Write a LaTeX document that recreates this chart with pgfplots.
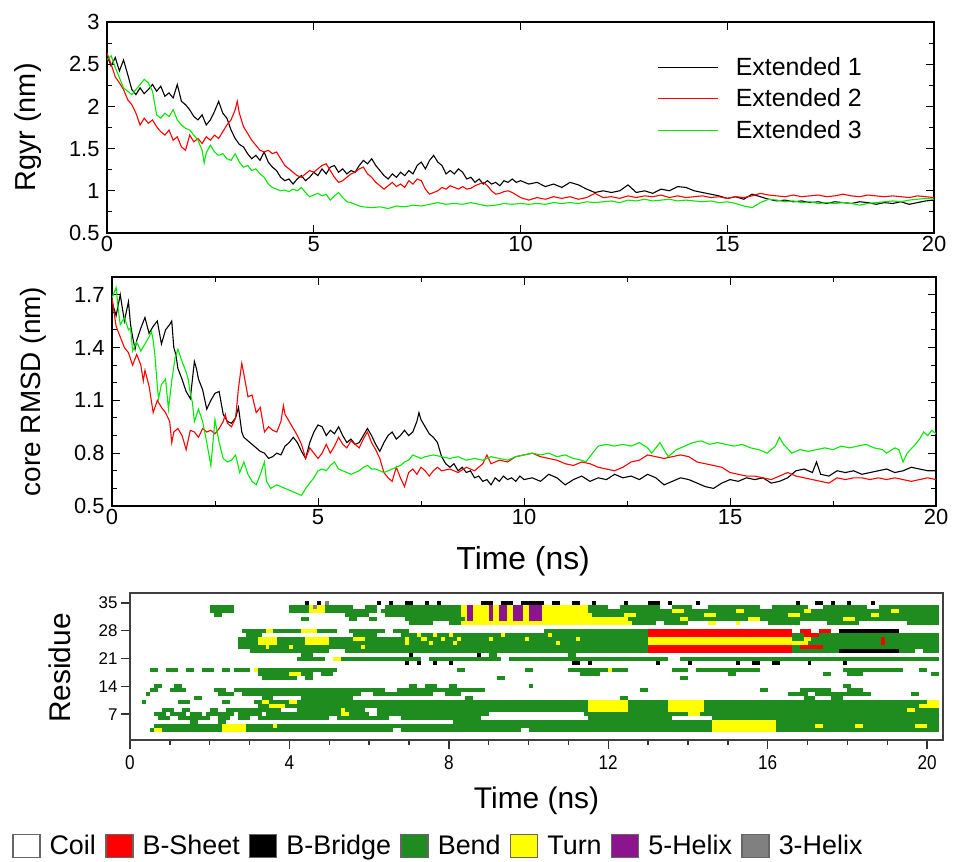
\documentclass[border=0pt]{standalone}
\usepackage{pgfplots}
\pgfplotsset{compat=1.18}
\usepackage{fontspec}
\setmainfont{Liberation Sans}
\newfontfamily\narrowfont{Liberation Sans}[FakeStretch=0.86]
\definecolor{cbend}{RGB}{30,140,30}
\definecolor{cturn}{RGB}{255,255,0}
\definecolor{csheet}{RGB}{255,0,0}
\definecolor{chelixfive}{RGB}{140,20,140}
\definecolor{chelixthree}{RGB}{128,128,128}
\definecolor{extg}{RGB}{0,235,0}
\definecolor{extr}{RGB}{255,0,0}
\pgfplotsset{
  seg/.style={line width=4bp, line cap=butt, unbounded coords=jump, forget plot},
  trace/.style={line width=1.1bp, mark=none},
}
\begin{document}
\begin{tikzpicture}
\useasboundingbox (0,0) rectangle (953bp,-862bp);
%================ TOP: Rgyr
\begin{axis}[
  at={(107bp,-233bp)}, anchor=south west, scale only axis,
  width=827bp, height=211bp,
  xmin=0, xmax=20, ymin=0.5, ymax=3,
  xtick={0,5,10,15,20}, ytick={0.5,1,1.5,2,2.5,3}, minor y tick num=1,
  tick align=inside, major tick length=8bp, minor tick length=5bp,
  /pgf/number format/assume math mode=true,
  ticklabel style={font=\fontsize{22}{26}\selectfont},
  yticklabel style={xshift=-4bp},
  ylabel={Rgyr (nm)},
  ylabel style={font=\fontsize{29}{34}\selectfont, at={(axis description cs:-0.095,0.5)}, anchor=center},
  axis line style={line width=1.2bp}, every tick/.style={line width=1bp, black},
  legend style={at={(0.662,0.852)}, anchor=north west, draw=none, fill=none,
     font=\fontsize{25}{30}\selectfont, row sep=8bp},
  legend cell align=left,
  legend image code/.code={\draw[#1, line width=1.2bp] (0bp,0bp) -- (60bp,0bp); \path (75bp,0bp);},
]
\addplot[trace, black] coordinates {(0,2.60)(0.1,2.48)(0.2,2.58)(0.3,2.42)(0.4,2.55)(0.5,2.38)(0.6,2.20)(0.7,2.14)(0.8,2.22)(0.9,2.15)(1.0,2.20)(1.1,2.26)(1.2,2.18)(1.3,2.24)(1.4,2.12)(1.5,2.16)(1.6,2.10)(1.7,2.26)(1.8,2.06)(1.9,2.02)(2.0,1.96)(2.1,1.88)(2.2,1.84)(2.3,1.90)(2.4,1.78)(2.5,1.84)(2.6,1.94)(2.7,2.06)(2.8,1.92)(2.9,1.86)(3.0,1.72)(3.1,1.62)(3.2,1.55)(3.3,1.52)(3.4,1.44)(3.5,1.38)(3.6,1.42)(3.7,1.36)(3.8,1.46)(3.9,1.34)(4.0,1.28)(4.1,1.24)(4.2,1.16)(4.3,1.12)(4.4,1.14)(4.5,1.08)(4.6,1.14)(4.7,1.18)(4.8,1.12)(4.9,1.16)(5.0,1.22)(5.1,1.18)(5.2,1.26)(5.3,1.20)(5.4,1.28)(5.5,1.30)(5.6,1.22)(5.7,1.26)(5.8,1.20)(5.9,1.24)(6.0,1.22)(6.1,1.30)(6.2,1.36)(6.3,1.32)(6.4,1.38)(6.5,1.30)(6.6,1.24)(6.7,1.18)(6.8,1.14)(6.9,1.20)(7.0,1.16)(7.1,1.22)(7.2,1.18)(7.3,1.24)(7.4,1.20)(7.5,1.30)(7.6,1.34)(7.7,1.26)(7.8,1.36)(7.9,1.42)(8.0,1.34)(8.1,1.30)(8.2,1.20)(8.3,1.24)(8.4,1.20)(8.5,1.26)(8.6,1.22)(8.7,1.14)(8.8,1.16)(8.9,1.10)(9.0,1.14)(9.1,1.08)(9.2,1.12)(9.3,1.08)(9.4,1.10)(9.5,1.06)(9.6,1.12)(9.7,1.10)(9.8,1.14)(9.9,1.10)(10.0,1.12)(10.2,1.08)(10.4,1.10)(10.6,1.05)(10.8,1.08)(11.0,1.04)(11.2,1.10)(11.4,1.07)(11.6,1.02)(11.8,0.98)(12.0,1.00)(12.2,0.98)(12.4,1.00)(12.6,1.07)(12.8,0.98)(13.0,1.00)(13.2,0.97)(13.4,1.02)(13.6,1.00)(13.8,1.05)(14.0,1.04)(14.2,1.00)(14.4,0.98)(14.6,0.96)(14.8,0.94)(15.0,0.91)(15.2,0.93)(15.4,0.90)(15.6,0.96)(15.8,0.93)(16.0,0.90)(16.2,0.88)(16.4,0.89)(16.6,0.87)(16.8,0.88)(17.0,0.86)(17.2,0.87)(17.4,0.85)(17.6,0.87)(17.8,0.86)(18.0,0.85)(18.2,0.87)(18.4,0.86)(18.6,0.84)(18.8,0.86)(19.0,0.85)(19.2,0.87)(19.4,0.84)(19.6,0.86)(19.8,0.88)(20.0,0.89)};
\addlegendentry{Extended 1}
\addplot[trace, extr] coordinates {(0,2.63)(0.1,2.50)(0.2,2.35)(0.3,2.28)(0.4,2.20)(0.5,2.08)(0.6,2.02)(0.7,1.92)(0.8,1.78)(0.9,1.86)(1.0,1.80)(1.1,1.84)(1.2,1.76)(1.3,1.70)(1.4,1.66)(1.5,1.72)(1.6,1.60)(1.7,1.64)(1.8,1.52)(1.9,1.48)(2.0,1.66)(2.1,1.58)(2.2,1.62)(2.3,1.56)(2.4,1.64)(2.5,1.60)(2.6,1.66)(2.7,1.62)(2.8,1.70)(2.9,1.78)(3.0,1.84)(3.1,1.96)(3.15,2.06)(3.2,1.92)(3.3,1.76)(3.4,1.68)(3.5,1.60)(3.6,1.54)(3.7,1.48)(3.8,1.46)(3.9,1.48)(4.0,1.44)(4.1,1.46)(4.2,1.38)(4.3,1.30)(4.4,1.26)(4.5,1.22)(4.6,1.18)(4.7,1.16)(4.8,1.20)(4.9,1.24)(5.0,1.22)(5.1,1.26)(5.2,1.30)(5.3,1.32)(5.4,1.24)(5.5,1.16)(5.6,1.10)(5.7,1.12)(5.8,1.16)(5.9,1.20)(6.0,1.22)(6.1,1.26)(6.2,1.28)(6.3,1.20)(6.4,1.16)(6.5,1.10)(6.6,1.06)(6.7,1.02)(6.8,1.06)(6.9,1.10)(7.0,1.05)(7.1,1.08)(7.2,1.04)(7.3,1.12)(7.4,1.08)(7.5,1.14)(7.6,1.12)(7.7,1.02)(7.8,0.96)(7.9,0.98)(8.0,1.00)(8.1,1.04)(8.2,1.02)(8.3,1.06)(8.4,1.04)(8.5,1.02)(8.6,1.05)(8.7,1.02)(8.8,1.03)(8.9,1.06)(9.0,1.08)(9.1,1.10)(9.2,1.06)(9.3,1.00)(9.4,0.96)(9.5,0.97)(9.6,0.99)(9.7,1.00)(9.8,0.98)(9.9,0.95)(10.0,0.92)(10.2,0.89)(10.4,0.92)(10.6,0.90)(10.8,0.93)(11.0,0.91)(11.2,0.93)(11.4,0.90)(11.6,0.92)(11.8,0.97)(12.0,0.92)(12.2,0.93)(12.4,0.91)(12.6,0.94)(12.8,0.92)(13.0,0.94)(13.2,0.93)(13.4,0.95)(13.6,0.92)(13.8,0.94)(14.0,0.92)(14.2,0.93)(14.4,0.94)(14.6,0.92)(14.8,0.93)(15.0,0.91)(15.2,0.93)(15.4,0.92)(15.6,0.94)(15.8,0.97)(16.0,0.95)(16.2,0.94)(16.4,0.93)(16.6,0.95)(16.8,0.93)(17.0,0.94)(17.2,0.95)(17.4,0.93)(17.6,0.94)(17.8,0.96)(18.0,0.94)(18.2,0.93)(18.4,0.95)(18.6,0.94)(18.8,0.93)(19.0,0.94)(19.2,0.93)(19.4,0.92)(19.6,0.94)(19.8,0.93)(20.0,0.92)};
\addlegendentry{Extended 2}
\addplot[trace, extg] coordinates {(0,2.55)(0.1,2.60)(0.2,2.46)(0.3,2.34)(0.4,2.22)(0.5,2.18)(0.6,2.14)(0.7,2.20)(0.8,2.26)(0.9,2.32)(1.0,2.28)(1.1,2.18)(1.2,1.90)(1.3,1.86)(1.4,1.92)(1.5,1.88)(1.6,1.96)(1.7,1.84)(1.8,1.78)(1.9,1.74)(2.0,1.72)(2.1,1.66)(2.2,1.60)(2.3,1.48)(2.35,1.33)(2.4,1.45)(2.5,1.54)(2.6,1.46)(2.7,1.42)(2.8,1.44)(2.9,1.38)(3.0,1.36)(3.1,1.44)(3.2,1.34)(3.3,1.28)(3.4,1.30)(3.5,1.24)(3.6,1.26)(3.7,1.20)(3.8,1.16)(3.9,1.08)(4.0,1.04)(4.1,1.02)(4.2,1.00)(4.3,1.01)(4.4,0.99)(4.5,1.02)(4.6,1.00)(4.7,1.04)(4.8,0.98)(4.9,0.93)(5.0,0.95)(5.1,0.97)(5.2,0.94)(5.3,0.96)(5.4,0.89)(5.5,0.94)(5.6,0.98)(5.7,0.92)(5.8,0.87)(5.9,0.86)(6.0,0.84)(6.1,0.82)(6.2,0.81)(6.4,0.80)(6.6,0.81)(6.8,0.79)(7.0,0.82)(7.2,0.81)(7.4,0.83)(7.6,0.82)(7.8,0.84)(8.0,0.86)(8.2,0.84)(8.4,0.85)(8.6,0.84)(8.8,0.86)(9.0,0.84)(9.2,0.82)(9.4,0.83)(9.6,0.85)(9.8,0.84)(10.0,0.85)(10.2,0.84)(10.4,0.85)(10.6,0.84)(10.8,0.86)(11.0,0.85)(11.2,0.86)(11.4,0.85)(11.6,0.87)(11.8,0.86)(12.0,0.87)(12.2,0.88)(12.4,0.86)(12.6,0.89)(12.8,0.88)(13.0,0.90)(13.2,0.88)(13.4,0.89)(13.6,0.90)(13.8,0.88)(14.0,0.89)(14.2,0.88)(14.4,0.87)(14.6,0.88)(14.8,0.86)(15.0,0.87)(15.2,0.85)(15.4,0.82)(15.6,0.80)(15.8,0.86)(16.0,0.90)(16.2,0.89)(16.4,0.87)(16.6,0.88)(16.8,0.86)(17.0,0.87)(17.2,0.85)(17.4,0.86)(17.6,0.85)(17.8,0.86)(18.0,0.85)(18.2,0.83)(18.4,0.85)(18.6,0.86)(18.8,0.87)(19.0,0.88)(19.2,0.87)(19.4,0.89)(19.6,0.90)(19.8,0.91)(20.0,0.90)};
\addlegendentry{Extended 3}
\end{axis}
%================ MIDDLE: core RMSD
\begin{axis}[
  at={(112bp,-506bp)}, anchor=south west, scale only axis,
  width=824bp, height=229bp,
  xmin=0, xmax=20, ymin=0.5, ymax=1.8,
  xtick={0,5,10,15,20}, minor x tick num=1,
  ytick={0.5,0.8,1.1,1.4,1.7}, minor y tick num=2,
  tick align=inside, major tick length=8bp, minor tick length=5bp,
  /pgf/number format/assume math mode=true,
  ticklabel style={font=\fontsize{22}{26}\selectfont},
  yticklabel style={xshift=-4bp},
  xlabel={Time (ns)}, ylabel={core RMSD (nm)},
  xlabel style={font=\fontsize{32}{38}\selectfont, at={(axis description cs:0.499,-0.24)}, anchor=center},
  ylabel style={font=\fontsize{28}{34}\selectfont, at={(axis description cs:-0.096,0.5)}, anchor=center},
  axis line style={line width=1.2bp}, every tick/.style={line width=1bp, black},
]
\addplot[trace, black] coordinates {(0,1.66)(0.1,1.58)(0.2,1.70)(0.3,1.55)(0.4,1.66)(0.45,1.53)(0.5,1.46)(0.56,1.39)(0.6,1.44)(0.7,1.51)(0.8,1.57)(0.9,1.48)(1.0,1.52)(1.1,1.55)(1.2,1.42)(1.3,1.50)(1.4,1.53)(1.45,1.55)(1.5,1.40)(1.55,1.36)(1.6,1.28)(1.7,1.22)(1.8,1.15)(1.9,1.11)(2.0,1.32)(2.05,1.28)(2.1,1.22)(2.2,1.16)(2.3,1.05)(2.4,1.10)(2.5,1.14)(2.6,1.15)(2.7,1.02)(2.8,0.98)(2.9,0.97)(3.0,1.00)(3.07,1.06)(3.15,0.92)(3.2,0.89)(3.3,0.87)(3.4,0.85)(3.5,0.83)(3.6,0.81)(3.7,0.80)(3.8,0.77)(3.9,0.78)(4.0,0.80)(4.1,0.79)(4.2,0.84)(4.3,0.86)(4.4,0.89)(4.5,0.86)(4.6,0.81)(4.7,0.77)(4.8,0.86)(4.9,0.92)(5.0,0.96)(5.1,0.95)(5.2,0.90)(5.3,0.93)(5.4,0.91)(5.5,0.95)(5.6,0.90)(5.7,0.86)(5.8,0.88)(5.9,0.85)(6.0,0.86)(6.1,0.90)(6.2,0.94)(6.3,0.90)(6.4,0.85)(6.5,0.81)(6.6,0.86)(6.7,0.90)(6.8,0.92)(6.9,0.88)(7.0,0.90)(7.1,0.93)(7.2,0.90)(7.3,0.92)(7.4,0.98)(7.45,1.03)(7.5,0.99)(7.6,0.95)(7.7,0.91)(7.8,0.89)(7.9,0.86)(8.0,0.78)(8.1,0.74)(8.2,0.72)(8.3,0.74)(8.4,0.70)(8.5,0.72)(8.6,0.69)(8.7,0.70)(8.8,0.66)(8.9,0.67)(9.0,0.64)(9.1,0.65)(9.2,0.62)(9.3,0.66)(9.4,0.64)(9.5,0.67)(9.6,0.65)(9.7,0.66)(9.8,0.64)(9.9,0.67)(10.0,0.65)(10.2,0.66)(10.4,0.64)(10.6,0.68)(10.8,0.66)(11.0,0.62)(11.2,0.65)(11.4,0.67)(11.6,0.64)(11.8,0.66)(12.0,0.65)(12.2,0.68)(12.4,0.66)(12.6,0.67)(12.8,0.65)(13.0,0.68)(13.2,0.66)(13.4,0.62)(13.6,0.64)(13.8,0.66)(14.0,0.65)(14.2,0.63)(14.4,0.61)(14.6,0.60)(14.8,0.63)(15.0,0.65)(15.2,0.64)(15.4,0.66)(15.6,0.65)(15.8,0.66)(16.0,0.63)(16.2,0.64)(16.4,0.66)(16.6,0.70)(16.8,0.71)(17.0,0.69)(17.1,0.75)(17.2,0.68)(17.4,0.67)(17.6,0.70)(17.8,0.69)(18.0,0.70)(18.2,0.68)(18.4,0.69)(18.6,0.70)(18.8,0.71)(19.0,0.69)(19.2,0.70)(19.4,0.72)(19.6,0.71)(19.8,0.70)(20.0,0.70)};
\addplot[trace, extr] coordinates {(0,1.68)(0.1,1.52)(0.2,1.46)(0.3,1.40)(0.4,1.37)(0.5,1.30)(0.6,1.36)(0.7,1.30)(0.76,1.21)(0.8,1.27)(0.9,1.18)(1.0,1.03)(1.1,1.10)(1.2,1.06)(1.3,1.03)(1.4,0.98)(1.45,0.86)(1.5,0.92)(1.6,0.94)(1.7,0.90)(1.8,0.82)(1.9,0.93)(2.0,0.92)(2.1,0.89)(2.2,0.94)(2.3,0.92)(2.4,0.93)(2.5,0.91)(2.6,0.94)(2.7,0.98)(2.75,1.02)(2.8,0.97)(2.9,0.95)(3.0,1.00)(3.07,1.17)(3.15,1.31)(3.2,1.25)(3.3,1.12)(3.4,1.13)(3.5,1.03)(3.6,1.06)(3.7,0.92)(3.8,0.95)(3.9,0.93)(4.0,0.92)(4.1,0.98)(4.16,1.07)(4.2,1.02)(4.3,0.98)(4.4,0.94)(4.5,0.90)(4.6,0.85)(4.7,0.77)(4.8,0.83)(4.9,0.80)(5.0,0.77)(5.1,0.80)(5.2,0.85)(5.3,0.80)(5.4,0.84)(5.5,0.89)(5.6,0.85)(5.7,0.83)(5.8,0.87)(5.9,0.85)(6.0,0.83)(6.1,0.88)(6.2,0.92)(6.3,0.86)(6.4,0.82)(6.5,0.77)(6.6,0.69)(6.7,0.66)(6.8,0.64)(6.9,0.72)(7.0,0.66)(7.1,0.61)(7.2,0.69)(7.3,0.71)(7.4,0.68)(7.5,0.72)(7.6,0.70)(7.7,0.67)(7.8,0.70)(7.9,0.72)(8.0,0.70)(8.2,0.71)(8.4,0.69)(8.6,0.72)(8.8,0.70)(9.0,0.74)(9.1,0.79)(9.2,0.74)(9.4,0.76)(9.6,0.75)(9.8,0.78)(10.0,0.79)(10.2,0.80)(10.4,0.78)(10.6,0.77)(10.8,0.76)(11.0,0.74)(11.2,0.73)(11.4,0.75)(11.6,0.74)(11.8,0.72)(12.0,0.71)(12.2,0.70)(12.4,0.72)(12.6,0.75)(12.8,0.76)(13.0,0.79)(13.2,0.78)(13.4,0.77)(13.6,0.78)(13.8,0.79)(14.0,0.78)(14.2,0.75)(14.4,0.74)(14.6,0.73)(14.8,0.72)(15.0,0.69)(15.2,0.68)(15.4,0.67)(15.6,0.67)(15.8,0.66)(16.0,0.65)(16.2,0.67)(16.4,0.69)(16.6,0.67)(16.8,0.66)(17.0,0.65)(17.2,0.64)(17.4,0.63)(17.6,0.66)(17.8,0.65)(18.0,0.66)(18.2,0.66)(18.4,0.65)(18.6,0.66)(18.8,0.65)(19.0,0.66)(19.2,0.65)(19.4,0.64)(19.6,0.65)(19.8,0.66)(20.0,0.65)};
\addplot[trace, extg] coordinates {(0,1.68)(0.1,1.74)(0.15,1.62)(0.2,1.53)(0.3,1.57)(0.4,1.50)(0.45,1.51)(0.5,1.38)(0.6,1.43)(0.7,1.38)(0.8,1.42)(0.9,1.46)(0.96,1.49)(1.0,1.44)(1.04,1.36)(1.1,1.18)(1.13,1.11)(1.2,1.19)(1.3,1.22)(1.37,1.05)(1.45,1.21)(1.53,1.34)(1.6,1.39)(1.7,1.32)(1.8,1.26)(1.85,1.22)(1.9,1.14)(1.95,1.09)(2.0,0.98)(2.1,1.05)(2.2,0.98)(2.3,0.86)(2.4,0.73)(2.5,0.99)(2.6,0.86)(2.7,0.77)(2.8,0.75)(2.9,0.76)(3.0,0.79)(3.1,0.69)(3.2,0.75)(3.3,0.68)(3.4,0.64)(3.5,0.62)(3.6,0.68)(3.7,0.75)(3.75,0.64)(3.85,0.60)(4.0,0.62)(4.1,0.61)(4.2,0.60)(4.3,0.59)(4.4,0.58)(4.5,0.57)(4.6,0.56)(4.7,0.60)(4.8,0.63)(4.9,0.66)(5.0,0.70)(5.1,0.71)(5.2,0.70)(5.3,0.73)(5.4,0.75)(5.5,0.71)(5.6,0.70)(5.7,0.69)(5.8,0.68)(5.9,0.69)(6.0,0.70)(6.1,0.72)(6.2,0.73)(6.3,0.71)(6.4,0.71)(6.5,0.70)(6.6,0.69)(6.7,0.70)(6.8,0.71)(6.9,0.72)(7.0,0.73)(7.1,0.75)(7.2,0.76)(7.3,0.79)(7.4,0.78)(7.5,0.77)(7.6,0.78)(7.8,0.79)(8.0,0.78)(8.2,0.77)(8.4,0.78)(8.6,0.76)(8.8,0.77)(9.0,0.76)(9.2,0.78)(9.4,0.77)(9.6,0.76)(9.8,0.78)(10.0,0.79)(10.2,0.80)(10.4,0.79)(10.6,0.80)(10.8,0.78)(11.0,0.79)(11.2,0.77)(11.4,0.76)(11.5,0.75)(11.6,0.78)(11.8,0.84)(12.0,0.85)(12.2,0.84)(12.4,0.85)(12.6,0.84)(12.8,0.86)(13.0,0.83)(13.1,0.80)(13.3,0.86)(13.5,0.78)(13.7,0.82)(13.9,0.84)(14.1,0.86)(14.3,0.87)(14.5,0.85)(14.7,0.86)(14.9,0.85)(15.1,0.84)(15.3,0.85)(15.5,0.83)(15.7,0.82)(15.9,0.80)(16.1,0.84)(16.2,0.89)(16.3,0.85)(16.5,0.80)(16.7,0.82)(16.9,0.81)(17.1,0.82)(17.3,0.83)(17.5,0.82)(17.7,0.84)(17.9,0.83)(18.1,0.84)(18.3,0.85)(18.5,0.83)(18.7,0.82)(18.8,0.80)(19.0,0.83)(19.1,0.82)(19.2,0.75)(19.3,0.80)(19.5,0.85)(19.6,0.88)(19.7,0.92)(19.8,0.90)(19.9,0.93)(20.0,0.91)};
\end{axis}
%================ BOTTOM: DSSP
\begin{axis}[
  at={(130bp,-740bp)}, anchor=south west, scale only axis,
  width=813bp, height=147bp,
  xmin=0, xmax=20.4, ymin=0.5, ymax=37.5,
  xtick={0,4,8,12,16,20}, minor x tick num=3,
  ytick={7,14,21,28,35},
  xtick pos=left, ytick pos=left,
  tick align=outside, major tick length=9bp, minor tick length=5bp,
  axis on top, clip=true,
  /pgf/number format/assume math mode=true,
  xticklabel style={font=\narrowfont\fontsize{20}{24}\selectfont, yshift=-3bp},
  yticklabel style={font=\fontsize{17}{20}\selectfont},
  xlabel={Time (ns)}, ylabel={Residue},
  xlabel style={font=\fontsize{30}{36}\selectfont, at={(axis description cs:0.5,-0.41)}, anchor=center},
  ylabel style={font=\fontsize{30}{36}\selectfont, at={(axis description cs:-0.086,0.49)}, anchor=center},
  axis line style={line width=1.8bp, draw=black!75}, every tick/.style={line width=1.4bp, black!80},
  legend columns=7,
  legend style={at={(-0.1452,-0.721)}, anchor=west, draw=none, fill=none, inner sep=0pt,
     font=\fontsize{27}{32}\selectfont,
     nodes={inner sep=0pt},
     /tikz/every odd column/.append style={column sep=9bp},
     /tikz/every even column/.append style={column sep=9.3bp}},
  legend image code/.code={\draw[#1] (0bp,-11.5bp) rectangle (27bp,11.5bp);},
]
% Bend (green)
\addplot[seg, cbend] coordinates {
(2.0,34)(2.6,34)(0,nan)(4.0,34)(4.5,34)(0,nan)(4.9,34)(5.6,34)(0,nan)(5.9,34)(6.2,34)(0,nan)(6.4,34)(8.3,34)(0,nan)(11.5,34)(12.0,34)(0,nan)(12.3,34)(13.3,34)(0,nan)(13.6,34)(14.1,34)(0,nan)(14.5,34)(15.8,34)(0,nan)(16.1,34)(17.0,34)(0,nan)(17.4,34)(18.5,34)(0,nan)(18.8,34)(20.3,34)(0,nan)
(2.0,33)(2.6,33)(0,nan)(4.0,33)(4.5,33)(0,nan)(4.9,33)(6.2,33)(0,nan)(6.3,33)(8.3,33)(0,nan)(11.5,33)(13.6,33)(0,nan)(13.9,33)(15.2,33)(0,nan)(15.4,33)(16.9,33)(0,nan)(17.1,33)(19.1,33)(0,nan)(19.3,33)(20.3,33)(0,nan)
(2.1,32)(2.3,32)(0,nan)(5.4,32)(6.0,32)(0,nan)(6.4,32)(8.3,32)(0,nan)(11.6,32)(12.4,32)(0,nan)(12.7,32)(14.4,32)(0,nan)(14.7,32)(16.5,32)(0,nan)(16.8,32)(18.6,32)(0,nan)(18.8,32)(20.3,32)(0,nan)
(4.3,31)(4.5,31)(0,nan)(5.5,31)(5.7,31)(0,nan)(6.0,31)(6.2,31)(0,nan)(6.9,31)(8.4,31)(0,nan)(12.5,31)(13.8,31)(0,nan)(14.0,31)(15.5,31)(0,nan)(15.8,31)(17.9,31)(0,nan)(18.2,31)(20.3,31)(0,nan)
(7.0,30)(7.6,30)(0,nan)(8.0,30)(8.3,30)(0,nan)(12.6,30)(13.2,30)(0,nan)(13.4,30)(14.0,30)(0,nan)(16.0,30)(16.8,30)(0,nan)(17.5,30)(18.3,30)(0,nan)(19.5,30)(20.3,30)(0,nan)
(2.8,28)(3.4,28)(0,nan)(3.6,28)(4.3,28)(0,nan)(4.7,28)(5.2,28)(0,nan)(5.5,28)(6.4,28)(0,nan)(6.6,28)(7.0,28)(0,nan)(10.4,28)(13.0,28)(0,nan)
(2.9,27)(3.3,27)(0,nan)(5.6,27)(6.2,27)(0,nan)(6.8,27)(13.0,27)(0,nan)(16.6,27)(16.9,27)(0,nan)(17.3,27)(20.3,27)(0,nan)
(2.7,26)(3.2,26)(0,nan)(3.7,26)(4.4,26)(0,nan)(5.0,26)(5.6,26)(0,nan)(5.9,26)(13.0,26)(0,nan)(16.6,26)(20.3,26)(0,nan)
(2.7,25)(3.2,25)(0,nan)(3.7,25)(4.4,25)(0,nan)(5.0,25)(13.0,25)(0,nan)(17.0,25)(20.3,25)(0,nan)
(2.7,24)(13.0,24)(0,nan)(16.6,24)(16.8,24)(0,nan)(17.4,24)(20.3,24)(0,nan)
(3.0,23)(5.0,23)(0,nan)(5.4,23)(13.0,23)(0,nan)(16.6,23)(17.8,23)(0,nan)(19.3,23)(19.7,23)(0,nan)(19.9,23)(20.3,23)(0,nan)
(4.3,22)(4.6,22)(0,nan)(9.0,22)(9.2,22)(0,nan)(11.0,22)(11.2,22)(0,nan)
(4.2,21)(4.9,21)(0,nan)(5.1,21)(7.3,21)(0,nan)(7.5,21)(9.3,21)(0,nan)(9.5,21)(13.5,21)(0,nan)(13.8,21)(20.3,21)(0,nan)
(0.5,18)(0.7,18)(0,nan)(0.9,18)(1.2,18)(0,nan)(1.4,18)(1.6,18)(0,nan)(1.8,18)(2.1,18)(0,nan)(2.3,18)(2.5,18)(0,nan)(2.6,18)(3.0,18)(0,nan)(3.1,18)(5.2,18)(0,nan)(8.2,18)(8.4,18)(0,nan)(9.9,18)(10.1,18)(0,nan)(11.0,18)(12.5,18)(0,nan)(13.6,18)(14.0,18)(0,nan)(14.2,18)(15.8,18)(0,nan)(17.9,18)(19.4,18)(0,nan)(19.8,18)(20.0,18)(0,nan)
(3.2,17)(4.0,17)(0,nan)(4.3,17)(4.6,17)(0,nan)(4.8,17)(5.1,17)(0,nan)(11.3,17)(11.8,17)(0,nan)(15.0,17)(15.2,17)(0,nan)(17.4,17)(17.6,17)(0,nan)(18.0,17)(18.4,17)(0,nan)(20.1,17)(20.3,17)(0,nan)
(3.3,16)(4.2,16)(0,nan)(4.4,16)(4.6,16)(0,nan)(9.2,16)(9.4,16)(0,nan)(13.8,16)(14.0,16)(0,nan)
(0.6,14)(0.8,14)(0,nan)(1.1,14)(1.3,14)(0,nan)(7.0,14)(7.2,14)(0,nan)(7.4,14)(7.7,14)(0,nan)(8.0,14)(8.2,14)(0,nan)(10.0,14)(10.1,14)(0,nan)(17.9,14)(18.1,14)(0,nan)
(0.5,13)(0.7,13)(0,nan)(1.0,13)(1.4,13)(0,nan)(2.1,13)(2.4,13)(0,nan)(2.6,13)(6.4,13)(0,nan)(6.7,13)(8.9,13)(0,nan)(12.8,13)(13.0,13)(0,nan)(15.8,13)(16.0,13)(0,nan)(16.8,13)(17.6,13)(0,nan)(18.0,13)(18.4,13)(0,nan)
(0.4,12)(0.5,12)(0,nan)(2.2,12)(2.6,12)(0,nan)(2.8,12)(5.8,12)(0,nan)(6.1,12)(7.6,12)(0,nan)(7.9,12)(8.3,12)(0,nan)(16.5,12)(17.0,12)(0,nan)(17.2,12)(18.6,12)(0,nan)(19.6,12)(19.8,12)(0,nan)
(1.6,11)(1.8,11)(0,nan)(3.3,11)(3.6,11)(0,nan)(4.3,11)(5.6,11)(0,nan)(8.4,11)(8.6,11)(0,nan)(12.3,11)(12.5,11)(0,nan)(16.9,11)(17.2,11)(0,nan)(17.6,11)(17.9,11)(0,nan)
(0.3,10)(0.4,10)(0,nan)(1.2,10)(1.5,10)(0,nan)(2.3,10)(2.5,10)(0,nan)(3.1,10)(3.3,10)(0,nan)(3.5,10)(4.0,10)(0,nan)(4.2,10)(11.5,10)(0,nan)(12.5,10)(13.5,10)(0,nan)(14.4,10)(20.0,10)(0,nan)
(3.2,9)(3.5,9)(0,nan)(3.9,9)(11.5,9)(0,nan)(12.5,9)(13.5,9)(0,nan)(14.4,9)(19.8,9)(0,nan)
(0.8,8)(1.1,8)(0,nan)(1.3,8)(1.5,8)(0,nan)(2.0,8)(2.2,8)(0,nan)(2.4,8)(3.8,8)(0,nan)(4.2,8)(5.9,8)(0,nan)(6.2,8)(11.5,8)(0,nan)(12.5,8)(13.5,8)(0,nan)(14.4,8)(19.5,8)(0,nan)(19.7,8)(20.3,8)(0,nan)
(0.6,7)(0.9,7)(0,nan)(1.0,7)(1.4,7)(0,nan)(1.5,7)(1.8,7)(0,nan)(1.9,7)(2.6,7)(0,nan)(2.7,7)(3.3,7)(0,nan)(3.4,7)(5.3,7)(0,nan)(5.5,7)(6.0,7)(0,nan)(6.2,7)(9.0,7)(0,nan)(11.4,7)(14.0,7)(0,nan)(14.3,7)(20.3,7)(0,nan)
(0.7,6)(1.0,6)(0,nan)(1.2,6)(2.0,6)(0,nan)(2.2,6)(2.5,6)(0,nan)(2.7,6)(3.0,6)(0,nan)(3.2,6)(5.0,6)(0,nan)(5.2,6)(6.5,6)(0,nan)(6.8,6)(8.8,6)(0,nan)(11.5,6)(13.6,6)(0,nan)(14.6,6)(20.3,6)(0,nan)
(1.5,5)(1.7,5)(0,nan)(2.2,5)(2.4,5)(0,nan)(8.1,5)(14.6,5)(0,nan)(16.2,5)(20.3,5)(0,nan)
(0.6,4)(2.3,4)(0,nan)(2.9,4)(3.6,4)(0,nan)(3.7,4)(14.6,4)(0,nan)(16.2,4)(17.2,4)(0,nan)(17.4,4)(18.2,4)(0,nan)(18.4,4)(19.7,4)(0,nan)(20.0,4)(20.3,4)(0,nan)
(0.5,3)(0.6,3)(0,nan)(0.8,3)(2.3,3)(0,nan)(2.9,3)(6.6,3)(0,nan)(6.8,3)(9.8,3)(0,nan)(10.0,3)(14.6,3)(0,nan)(16.2,3)(20.3,3)
};
% Turn (yellow)
\addplot[seg, cturn] coordinates {
(4.5,34)(4.9,34)(0,nan)(8.3,34)(8.45,34)(0,nan)(8.6,34)(9.0,34)(0,nan)(9.1,34)(9.27,34)(0,nan)(9.45,34)(9.6,34)(0,nan)(9.85,34)(10.0,34)(0,nan)(10.35,34)(11.5,34)(0,nan)
(4.5,33)(4.9,33)(0,nan)(8.3,33)(8.45,33)(0,nan)(8.6,33)(9.0,33)(0,nan)(9.1,33)(9.27,33)(0,nan)(9.45,33)(9.6,33)(0,nan)(9.85,33)(10.0,33)(0,nan)(10.35,33)(11.5,33)(0,nan)(13.6,33)(13.9,33)(0,nan)(15.2,33)(15.4,33)(0,nan)(16.9,33)(17.1,33)(0,nan)(19.1,33)(19.3,33)(0,nan)
(8.3,32)(8.45,32)(0,nan)(8.6,32)(9.0,32)(0,nan)(9.1,32)(9.27,32)(0,nan)(9.45,32)(9.6,32)(0,nan)(9.85,32)(10.0,32)(0,nan)(10.35,32)(11.6,32)(0,nan)(12.4,32)(12.7,32)(0,nan)(14.4,32)(14.7,32)(0,nan)(16.5,32)(16.8,32)(0,nan)(18.6,32)(18.8,32)(0,nan)
(8.4,31)(8.45,31)(0,nan)(8.6,31)(9.0,31)(0,nan)(9.1,31)(9.27,31)(0,nan)(9.45,31)(9.6,31)(0,nan)(9.85,31)(10.0,31)(0,nan)(10.35,31)(12.5,31)(0,nan)(13.8,31)(14.0,31)(0,nan)(15.5,31)(15.8,31)(0,nan)(17.9,31)(18.2,31)(0,nan)
(8.3,30)(12.6,30)(0,nan)(14.5,30)(14.7,30)(0,nan)(15.2,30)(15.3,30)(0,nan)
(3.4,28)(3.6,28)(0,nan)(4.3,28)(4.7,28)(0,nan)
(7.2,27)(7.3,27)(0,nan)(7.6,27)(7.7,27)(0,nan)(8.0,27)(8.1,27)(0,nan)(9.3,27)(9.4,27)(0,nan)(10.5,27)(10.6,27)(0,nan)
(3.2,26)(3.7,26)(0,nan)(4.4,26)(5.0,26)(0,nan)(5.6,26)(5.9,26)(0,nan)(6.9,26)(7.0,26)(0,nan)(7.3,26)(7.45,26)(0,nan)(7.8,26)(7.9,26)(0,nan)(8.2,26)(8.3,26)(0,nan)(9.0,26)(9.1,26)(0,nan)(9.9,26)(10.0,26)(0,nan)(11.2,26)(11.3,26)(0,nan)(13.0,26)(16.6,26)(0,nan)(16.9,26)(17.1,26)(0,nan)
(3.2,25)(3.7,25)(0,nan)(4.4,25)(5.0,25)(0,nan)(6.9,25)(7.0,25)(0,nan)(7.5,25)(7.6,25)(0,nan)(8.1,25)(8.2,25)(0,nan)(10.7,25)(10.8,25)(0,nan)(13.0,25)(17.0,25)(0,nan)
(3.4,24)(3.5,24)(0,nan)(4.0,24)(4.1,24)(0,nan)(5.8,24)(5.9,24)(0,nan)
(5.1,21)(5.3,21)(0,nan)
(3.1,18)(3.2,18)(0,nan)(12.0,18)(12.1,18)(0,nan)
(4.0,17)(4.3,17)(0,nan)
(3.3,10)(3.5,10)(0,nan)(4.0,10)(4.2,10)(0,nan)(11.5,10)(12.5,10)(0,nan)(13.5,10)(14.4,10)(0,nan)(20.0,10)(20.3,10)(0,nan)
(3.5,9)(3.9,9)(0,nan)(11.5,9)(12.5,9)(0,nan)(13.5,9)(14.4,9)(0,nan)(19.8,9)(20.3,9)(0,nan)
(5.3,8)(5.4,8)(0,nan)(11.5,8)(12.5,8)(0,nan)(13.5,8)(14.4,8)(0,nan)(19.5,8)(19.7,8)(0,nan)
(5.3,7)(5.5,7)(0,nan)(14.0,7)(14.3,7)(0,nan)
(14.6,5)(16.2,5)(0,nan)
(2.3,4)(2.9,4)(0,nan)(3.6,4)(3.7,4)(0,nan)(14.6,4)(16.2,4)(0,nan)(17.2,4)(17.4,4)(0,nan)(18.2,4)(18.4,4)(0,nan)(19.7,4)(20.0,4)(0,nan)
(0.6,3)(0.8,3)(0,nan)(2.3,3)(2.9,3)(0,nan)(14.6,3)(16.2,3)
};
% 5-Helix (purple)
\addplot[seg, chelixfive] coordinates {
(8.45,34)(8.6,34)(0,nan)(9.0,34)(9.1,34)(0,nan)(9.27,34)(9.45,34)(0,nan)(9.6,34)(9.85,34)(0,nan)(10.0,34)(10.35,34)(0,nan)
(8.45,33)(8.6,33)(0,nan)(9.0,33)(9.1,33)(0,nan)(9.27,33)(9.45,33)(0,nan)(9.6,33)(9.85,33)(0,nan)(10.0,33)(10.35,33)(0,nan)
(8.45,32)(8.6,32)(0,nan)(9.0,32)(9.1,32)(0,nan)(9.27,32)(9.45,32)(0,nan)(9.6,32)(9.85,32)(0,nan)(10.0,32)(10.35,32)(0,nan)
(8.45,31)(8.6,31)(0,nan)(9.0,31)(9.1,31)(0,nan)(9.27,31)(9.45,31)(0,nan)(9.6,31)(9.85,31)(0,nan)(10.0,31)(10.35,31)
};
% B-Sheet (red)
\addplot[seg, csheet] coordinates {
(13.0,28)(16.6,28)(0,nan)(16.8,28)(17.1,28)(0,nan)(17.3,28)(17.6,28)(0,nan)
(13.0,27)(16.6,27)(0,nan)(16.9,27)(17.3,27)(0,nan)
(18.85,26)(18.95,26)(0,nan)(18.85,25)(18.95,25)(0,nan)
(13.0,24)(16.6,24)(0,nan)(16.8,24)(17.4,24)(0,nan)
(13.0,23)(16.6,23)
};
% B-Bridge (black)
\addplot[seg, black] coordinates {
(17.8,28)(19.3,28)(0,nan)(17.8,23)(19.3,23)(0,nan)
(4.4,35)(4.5,35)(0,nan)(4.7,35)(4.8,35)(0,nan)(6.2,35)(6.3,35)(0,nan)(6.5,35)(6.6,35)(0,nan)(6.9,35)(7.1,35)(0,nan)(7.4,35)(7.5,35)(0,nan)(7.7,35)(7.8,35)(0,nan)(8.8,35)(9.1,35)(0,nan)(9.3,35)(9.6,35)(0,nan)(9.8,35)(10.4,35)(0,nan)(10.6,35)(10.8,35)(0,nan)(11.1,35)(11.3,35)(0,nan)(11.6,35)(11.7,35)(0,nan)(12.4,35)(12.5,35)(0,nan)(13.0,35)(13.3,35)(0,nan)(13.5,35)(13.6,35)(0,nan)(14.2,35)(14.3,35)(0,nan)(16.7,35)(16.8,35)(0,nan)(17.2,35)(17.4,35)(0,nan)(17.6,35)(17.7,35)(0,nan)(18.0,35)(18.1,35)(0,nan)(18.6,35)(18.7,35)(0,nan)
(6.9,20)(7.0,20)(0,nan)(7.2,20)(7.3,20)(0,nan)(7.6,20)(7.7,20)(0,nan)(8.0,20)(8.1,20)(0,nan)(11.1,20)(11.3,20)(0,nan)(11.5,20)(11.6,20)(0,nan)(13.2,20)(13.3,20)(0,nan)(14.0,20)(14.1,20)(0,nan)(15.2,20)(15.3,20)(0,nan)(15.6,20)(15.8,20)(0,nan)(16.1,20)(16.3,20)(0,nan)(17.0,20)(17.1,20)(0,nan)(17.9,20)(18.0,20)(0,nan)
(7.0,22)(7.1,22)(0,nan)(8.7,22)(8.8,22)
};
% 3-Helix (gray)
\addplot[seg, chelixthree] coordinates {(4.9,35)(5.0,35)(0,nan)(4.6,34)(4.7,34)};
\addlegendimage{draw=black!60, fill=white, line width=1.4bp}
\addlegendentry{Coil}
\addlegendimage{draw=black!60, fill=csheet, line width=1.4bp}
\addlegendentry{B-Sheet}
\addlegendimage{draw=black!60, fill=black, line width=1.4bp}
\addlegendentry{B-Bridge}
\addlegendimage{draw=black!60, fill=cbend, line width=1.4bp}
\addlegendentry{Bend}
\addlegendimage{draw=black!60, fill=cturn, line width=1.4bp}
\addlegendentry{Turn}
\addlegendimage{draw=black!60, fill=chelixfive, line width=1.4bp}
\addlegendentry{5-Helix}
\addlegendimage{draw=black!60, fill=chelixthree, line width=1.4bp}
\addlegendentry{3-Helix}
\end{axis}
\end{tikzpicture}
\end{document}
